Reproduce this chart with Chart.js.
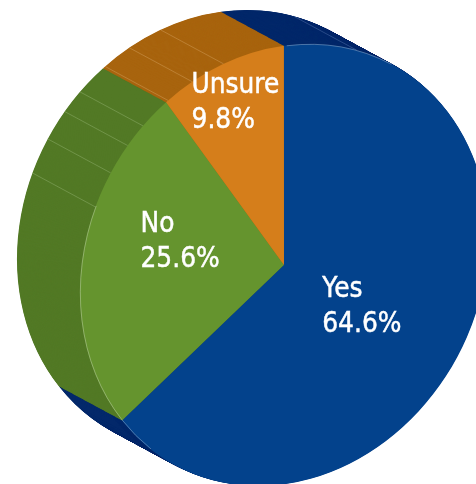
<!DOCTYPE html>
<html lang="en">
<head>
  <meta charset="UTF-8">
  <title>Yes / No / Unsure</title>
  <style>
    html, body { margin: 0; padding: 0; background: #fff; overflow: hidden; }
    canvas { display: block; }
  </style>
</head>
<body>
  <canvas id="pie" width="476" height="484"></canvas>

  <script src="https://cdn.jsdelivr.net/npm/chart.js"></script>
  <script>
    const categories = ['Yes', 'No', 'Unsure'];
    const values = [64.6, 25.6, 9.8];
    const faceColors = ['#03428c', '#65942e', '#d57e1b'];
    const sideColors = ['#03286a', '#527925', '#a8640e'];

    // facet lines on the side wall, degrees clockwise from the top of the pie
    const ribAngles = [-71.3, -61.9, -53.8, -47.5, -38.4, -30.5, -21, 17.1];
    const ribColors = ['#8fae6c', '#8fae6c', '#8fae6c', '#8fae6c', '#d09c58', '#d09c58', '#d09c58', '#4f6fa8'];
    // light rim on the front face, same angles
    const rimRanges = [[-143, -131], [-131, -71], [-3, 28]];
    // where each label sits along its slice, then a small vertical nudge
    const labelFrac = [0.42, 0.52, 0.8];
    const labelNudge = [2, -30, -12];

    // 3D look: the flat pie is squashed into a tilted ellipse and pushed back
    const center = { x: 284, y: 265 };
    const depth = { x: -63, y: -34 };
    const major = 228, minor = 196.2, tilt = 28.8 * Math.PI / 180;
    const startAngle = -3.8;

    const d1 = { x: Math.sin(tilt), y: -Math.cos(tilt) };
    const d2 = { x: -Math.cos(tilt), y: -Math.sin(tilt) };
    const m11 = major * d1.x * d1.x + minor * d2.x * d2.x;
    const m12 = major * d1.x * d1.y + minor * d2.x * d2.y;
    const m22 = major * d1.y * d1.y + minor * d2.y * d2.y;

    function applyTilt(ctx, arc, dx, dy) {
      const r = arc.outerRadius;
      ctx.translate(center.x + dx, center.y + dy);
      ctx.transform(m11 / r, m12 / r, m12 / r, m22 / r, 0, 0);
      ctx.translate(-arc.x, -arc.y);
    }

    function project(deg, frac) {
      const a = deg * Math.PI / 180;
      const ux = Math.sin(a) * frac, uy = -Math.cos(a) * frac;
      return { x: center.x + m11 * ux + m12 * uy, y: center.y + m12 * ux + m22 * uy };
    }

    const pie3d = {
      id: 'pie3d',
      beforeDatasetsDraw(chart) {
        const ctx = chart.ctx;
        const arcs = chart.getDatasetMeta(0).data;
        const steps = 130;
        for (let s = steps; s >= 1; s--) {
          ctx.save();
          applyTilt(ctx, arcs[0], depth.x * s / steps, depth.y * s / steps);
          arcs.forEach((arc, i) => {
            const saved = arc.options;
            arc.options = Object.assign({}, saved, { backgroundColor: sideColors[i] });
            arc.draw(ctx);
            arc.options = saved;
          });
          ctx.restore();
        }
        ctx.save();
        ctx.lineWidth = 0.5;
        ribAngles.forEach((deg, i) => {
          const p = project(deg, 1);
          ctx.strokeStyle = ribColors[i];
          ctx.beginPath();
          ctx.moveTo(p.x, p.y);
          ctx.lineTo(p.x + depth.x, p.y + depth.y);
          ctx.stroke();
        });
        ctx.restore();
      },
      beforeDatasetDraw(chart) {
        const ctx = chart.ctx;
        ctx.save();
        applyTilt(ctx, chart.getDatasetMeta(0).data[0], 0, 0);
      },
      afterDatasetDraw(chart) {
        const ctx = chart.ctx;
        const arc = chart.getDatasetMeta(0).data[0];
        ctx.strokeStyle = 'rgba(255,255,255,0.4)';
        ctx.lineWidth = 0.8;
        rimRanges.forEach(r => {
          ctx.beginPath();
          ctx.arc(arc.x, arc.y, arc.outerRadius - 0.4, (r[0] - 90) * Math.PI / 180, (r[1] - 90) * Math.PI / 180);
          ctx.stroke();
        });
        ctx.restore();
      },
      afterDatasetsDraw(chart) {
        const ctx = chart.ctx;
        const total = values.reduce((a, b) => a + b, 0);
        const squeeze = 0.86;
        let from = startAngle;
        ctx.fillStyle = '#fff';
        ctx.strokeStyle = '#fff';
        ctx.lineWidth = 0.5;
        ctx.font = '29px "DejaVu Sans"';
        ctx.textAlign = 'left';
        ctx.textBaseline = 'alphabetic';
        categories.forEach((name, i) => {
          const sweep = values[i] / total * 360;
          const p = project(from + sweep / 2, labelFrac[i]);
          const pct = values[i].toFixed(1) + '%';
          const w = squeeze * Math.max(ctx.measureText(name).width, ctx.measureText(pct).width);
          ctx.save();
          ctx.translate(p.x - w / 2 + 1, p.y + labelNudge[i]);
          ctx.scale(squeeze, 1);
          ctx.fillText(name, 0, 0);
          ctx.strokeText(name, 0, 0);
          ctx.fillText(pct, 0, 35);
          ctx.strokeText(pct, 0, 35);
          ctx.restore();
          from += sweep;
        });
      }
    };

    new Chart(document.getElementById('pie').getContext('2d'), {
      type: 'pie',
      data: {
        labels: categories,
        datasets: [{
          data: values,
          backgroundColor: faceColors,
          borderWidth: 0,
          clip: false
        }]
      },
      options: {
        responsive: false,
        animation: false,
        rotation: startAngle,
        layout: { padding: 0 },
        plugins: { legend: { display: false }, tooltip: { enabled: false } }
      },
      plugins: [pie3d]
    });
  </script>
</body>
</html>
